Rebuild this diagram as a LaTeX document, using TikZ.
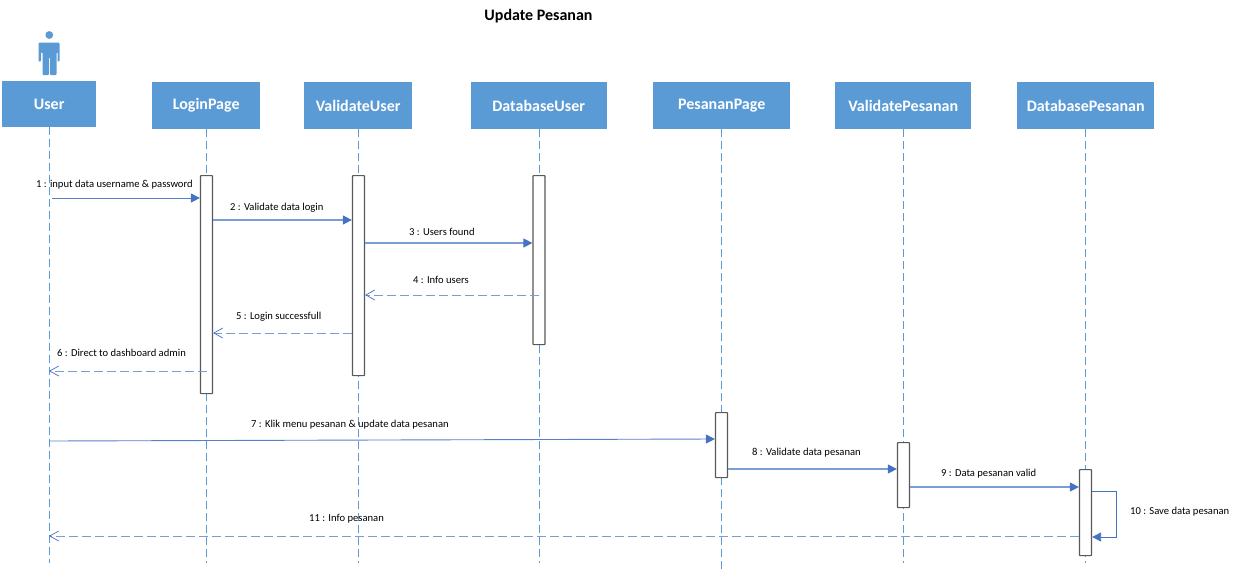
\documentclass[tikz,border=0pt]{standalone}
\usepackage{fontspec}
\setmainfont{Carlito}
\usetikzlibrary{arrows.meta}
\definecolor{hdr}{HTML}{5B9BD5}
\definecolor{arrowblue}{HTML}{4472C4}
\tikzset{
 head/.style={fill=hdr,draw=none,text=white,font=\fontsize{16}{16}\selectfont\bfseries,minimum height=47pt,inner sep=0pt,anchor=north west},
 life/.style={draw=hdr,line width=0.9pt,dash pattern=on 8pt off 4pt},
 act/.style={draw=black!65,fill=white,line width=1.2pt,rounded corners=0.6pt,minimum width=12pt,inner sep=0pt,anchor=north},
 msg/.style={draw=arrowblue!70,line width=1.2pt,-{Triangle[length=9pt,width=9pt,fill=arrowblue,color=arrowblue]}},
 msgthin/.style={msg,draw=arrowblue!90,line width=0.9pt},
 ret/.style={draw=arrowblue!70,line width=1pt,dash pattern=on 9pt off 4pt,-{Straight Barb[length=9pt,width=10pt,color=arrowblue,line width=0.7pt]}},
 lbl/.style={font=\fontsize{10.6}{11}\selectfont,text=black,inner sep=0pt},
}
\begin{document}
\begin{tikzpicture}[x=1pt,y=-1pt]
\useasboundingbox (0,0) rectangle (1235,571);
\node[font=\fontsize{16}{16}\selectfont\bfseries,inner sep=0pt] (title) at (538.5,16) {Update Pesanan};
% actor
\fill[hdr] (49.3,35) circle (3.9);
\fill[hdr,rounded corners=1pt] (38.5,42.5) -- (59.5,42.5) -- (59.5,61.5) -- (57.5,61.5) -- (57.5,52) -- (56.5,52) -- (56.5,75) -- (50,75) -- (50,57) -- (49,57) -- (49,75) -- (42.5,75) -- (42.5,52) -- (41,52) -- (41,61.5) -- (38.5,61.5) -- cycle;
% heads
\node[head,minimum width=94pt,minimum height=46pt] (hUser) at (2,81) {User};
\node[head,minimum width=108pt] (hLogin) at (152,82) {LoginPage};
\node[head,minimum width=108pt] (hValU) at (304,82) {ValidateUser};
\node[head,minimum width=136pt] (hDbU) at (470.5,82) {DatabaseUser};
\node[head,minimum width=137pt] (hPes) at (653,82) {PesananPage};
\node[head,minimum width=136pt] (hValP) at (835,82) {ValidatePesanan};
\node[head,minimum width=137pt] (hDbP) at (1017,82) {DatabasePesanan};
% lifeline ends
\coordinate (eUser) at (49,563);
\coordinate (eLogin) at (206.5,563);
\coordinate (eValU) at (358.5,563);
\coordinate (eDbU) at (539,563);
\coordinate (ePes) at (721.5,570);
\coordinate (eValP) at (903.5,563);
\coordinate (eDbP) at (1085.5,563);
\draw[life] (eUser |- hUser.south) -- (eUser);
\draw[life] (eLogin |- hLogin.south) -- (eLogin);
\draw[life] (eValU |- hValU.south) -- (eValU);
\draw[life] (eDbU |- hDbU.south) -- (eDbU);
\draw[life] (ePes |- hPes.south) -- (ePes);
\draw[life] (eValP |- hValP.south) -- (eValP);
\draw[life] (eDbP |- hDbP.south) -- (eDbP);
% activations
\node[act,minimum height=218pt] (aLogin) at (206.5,175) {};
\node[act,minimum height=200pt] (aValU) at (358.5,175) {};
\node[act,minimum height=169pt] (aDbU) at (539,175) {};
\node[act,minimum height=65pt] (aPes) at (721.5,412) {};
\node[act,minimum height=65pt] (aValP) at (903.5,442) {};
\node[act,minimum height=86pt] (aDbP) at (1085.5,469) {};
% free ends
\coordinate (u1) at (52,198);
\coordinate (u6) at (49,371);
\coordinate (u7) at (49,441);
\coordinate (u11) at (49,536);
\coordinate (s1) at (1116,491);
\coordinate (s2) at (1116,537);
% messages
\draw[msgthin] (u1) -- (aLogin.west |- u1);
\draw[msg] (aLogin.east |- 0,220) -- (aValU.west |- 0,220);
\draw[msg] (aValU.east |- 0,243) -- (aDbU.west |- 0,243);
\draw[ret] (aDbU.center |- 0,295) -- (aValU.east |- 0,295);
\draw[ret] (aValU.west |- 0,333) -- (aLogin.east |- 0,333);
\draw[ret] (aLogin.center |- u6) -- (u6);
\draw[msgthin] (u7) -- (aPes.west |- 0,439);
\draw[msg] (aPes.east |- 0,469) -- (aValP.west |- 0,469);
\draw[msg] (aValP.east |- 0,487) -- (aDbP.west |- 0,487);
\draw[draw=arrowblue,line width=0.8pt,-{Triangle[length=9pt,width=9pt,fill=arrowblue,color=arrowblue]}] (aDbP.east |- s1) -- (s1) -- (s2) -- (aDbP.east |- s2);
\draw[ret] (aDbP.west |- u11) -- (u11);
% labels
\node[lbl,anchor=west] (l1) at (36,185) {1 : input data username \& password};
\node[lbl,anchor=west] (l2) at (230,208) {2 : Validate data login};
\node[lbl,anchor=west] (l3) at (409,232) {3 : Users found};
\node[lbl,anchor=west] (l4) at (413,280) {4 : Info users};
\node[lbl,anchor=west] (l5) at (236,317) {5 : Login successfull};
\node[lbl,anchor=west] (l6) at (57,353) {6 : Direct to dashboard admin};
\node[lbl,anchor=west] (l7) at (251,425) {7 : Klik menu pesanan \& update data pesanan};
\node[lbl,anchor=west] (l8) at (752,453) {8 : Validate data pesanan};
\node[lbl,anchor=west] (l9) at (941,474) {9 : Data pesanan valid};
\node[lbl,anchor=west] (l10) at (1130,512) {10 : Save data pesanan};
\node[lbl,anchor=west] (l11) at (309,519) {11 : Info pesanan};
\end{tikzpicture}
\end{document}
